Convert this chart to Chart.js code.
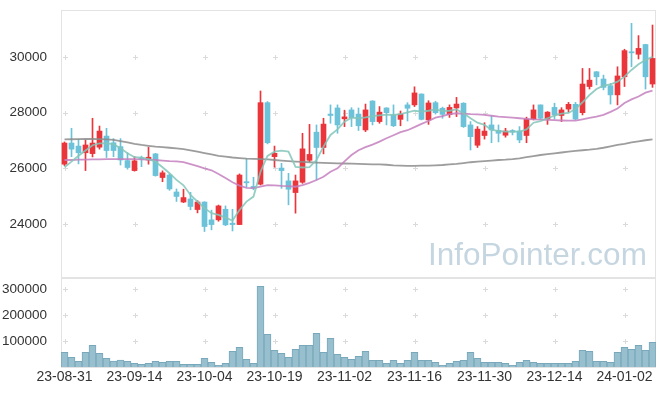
<!DOCTYPE html>
<html><head><meta charset="utf-8">
<script src="https://cdn.jsdelivr.net/npm/chart.js@4.4.1/dist/chart.umd.min.js"></script>
<style>
html,body{margin:0;padding:0;background:#fff;}
#wrap{position:relative;width:665px;height:396px;overflow:hidden;}
#p1{position:absolute;left:0;top:0;width:665px;height:280px;}
#p2{position:absolute;left:0;top:270px;width:665px;height:126px;}
#wm{position:absolute;left:428px;top:236px;font:31.5px "Liberation Sans",Arial,sans-serif;color:#c6d6e1;white-space:nowrap;pointer-events:none;}
</style></head><body>
<div id="wrap">
<div id="p1"><canvas id="c1"></canvas></div>
<div id="p2"><canvas id="c2"></canvas></div>
<div id="wm">InfoPointer.com</div>
</div>
<script>
const dates = ["23-08-31","23-09-01","23-09-04","23-09-05","23-09-06","23-09-07","23-09-08","23-09-11","23-09-12","23-09-13",
"23-09-14","23-09-15","23-09-18","23-09-19","23-09-20","23-09-21","23-09-22","23-09-25","23-09-26","23-09-27",
"23-10-04","23-10-05","23-10-06","23-10-10","23-10-11","23-10-12","23-10-13","23-10-16","23-10-17","23-10-18",
"23-10-19","23-10-20","23-10-23","23-10-24","23-10-25","23-10-26","23-10-27","23-10-30","23-10-31","23-11-01",
"23-11-02","23-11-03","23-11-06","23-11-07","23-11-08","23-11-09","23-11-10","23-11-13","23-11-14","23-11-15",
"23-11-16","23-11-17","23-11-20","23-11-21","23-11-22","23-11-23","23-11-24","23-11-27","23-11-28","23-11-29",
"23-11-30","23-12-01","23-12-04","23-12-05","23-12-06","23-12-07","23-12-08","23-12-11","23-12-12","23-12-13",
"23-12-14","23-12-15","23-12-18","23-12-19","23-12-20","23-12-21","23-12-22","23-12-26","23-12-27","23-12-28",
"24-01-02","24-01-03","24-01-04","24-01-05","24-01-08"];

const opens = [26150,26910,26800,26560,26530,26760,27160,26920,26780,26280,
25920,26380,26300,26520,25670,25760,25150,24790,24900,24520,
24790,24150,24150,24530,24030,23980,25520,25350,25430,28360,
26420,26010,25550,25130,25500,26290,27300,26750,27950,28170,
27780,28100,27950,27380,28420,27680,28170,27920,27760,28280,
28280,28670,27740,28360,28160,27930,28170,28340,27560,26830,
27180,27560,27360,27190,27360,27340,27180,27770,28280,27770,
28190,27900,28130,28300,28000,28940,29470,29210,28970,28640,
29290,30190,30100,30450,29030];
const highs = [26950,27440,27050,27020,27800,27520,27440,27070,27070,26560,
26420,26440,26760,26540,25910,25800,25260,25250,25140,24840,
24800,24500,24680,24650,24530,25800,26340,25680,28780,28400,
26800,26180,25820,25760,27260,27580,27560,27800,28280,28280,
28090,28180,28170,28310,28430,28220,28180,28280,28060,28360,
28930,28680,28430,28410,28200,28280,28550,28360,27680,27500,
27640,27890,27560,27440,27390,27500,27840,28280,28280,28040,
28340,28180,28370,28370,29590,29590,29480,29350,29050,29650,
30280,31210,30770,30460,31150];
const lows = [26100,26420,26160,25920,26410,26690,26390,26420,26120,25970,
25900,26060,26150,25720,25520,25210,24810,24770,24510,24400,
23730,23790,24100,23940,23750,23980,25320,25230,25400,26880,
26040,25280,24690,24390,25460,26240,25580,26520,27620,27260,
27500,27500,27360,27320,27560,27620,27560,27500,27530,27700,
28220,27740,27580,27950,27800,27830,27860,27470,26660,26750,
27050,26920,26950,27120,27200,26920,26920,27740,27770,27580,
27770,27680,28020,27750,27920,28850,29000,28820,28310,28280,
28940,29650,29930,28850,28910];
const closes = [26910,26690,26560,26840,26910,27340,26640,26640,26300,26030,
26270,26330,26400,25740,25840,25260,24990,24950,24630,24790,
23910,23980,24650,23970,23980,25760,25480,25290,28360,26920,
26540,25920,25250,25550,26700,26500,26750,27590,27900,27560,
27850,27820,27530,28100,27680,28020,28000,27530,27950,28160,
28710,27760,28350,28000,27940,28190,28310,27500,27140,27410,
27340,27380,27260,27340,27300,27020,27770,28100,27800,28020,
27920,28100,28300,27770,29030,29170,29290,28910,28640,29320,
30230,30150,30310,29290,29950];
const ma5 = [26040,26240,26450,26640,26830,26900,26900,26870,26720,26545,
26400,26385,26330,26240,26040,25825,25585,25390,25045,24805,
24570,24390,24330,24230,24125,24505,24805,24985,25880,26445,
26600,26635,26600,26050,26030,26040,26300,26780,27200,27400,
27680,27820,27800,27835,27880,27905,27930,27920,27945,28015,
28070,28040,28070,28120,28060,28070,28120,27980,27800,27640,
27560,27380,27345,27320,27320,27320,27400,27640,27700,27800,
27895,27965,27990,28135,28375,28635,28850,28970,29020,29115,
29295,29535,29740,29890,30010];
const ma20 = [26300,26300,26310,26310,26320,26320,26330,26330,26330,26330,
26330,26320,26310,26300,26280,26260,26250,26220,26150,26080,
26000,25930,25800,25650,25500,25380,25300,25290,25340,25400,
25390,25370,25360,25340,25400,25480,25580,25700,25880,26000,
26250,26480,26650,26760,26850,26960,27080,27190,27300,27370,
27480,27600,27700,27820,27880,27950,27980,27970,27950,27940,
27920,27890,27860,27840,27820,27800,27780,27760,27750,27740,
27730,27720,27715,27715,27760,27810,27860,27920,28030,28150,
28350,28480,28580,28720,28790];
const ma60 = [27040,27045,27050,27055,27055,27050,27040,27020,26980,26930,
26880,26840,26810,26780,26760,26740,26720,26690,26650,26600,
26550,26500,26450,26420,26390,26370,26350,26340,26330,26320,
26300,26280,26260,26245,26230,26220,26205,26195,26185,26180,
26175,26170,26160,26150,26145,26140,26130,26110,26100,26090,
26090,26095,26100,26110,26120,26140,26160,26190,26220,26240,
26260,26280,26300,26310,26330,26360,26400,26440,26480,26510,
26540,26570,26600,26630,26650,26670,26700,26740,26790,26840,
26880,26930,26970,27010,27045];
const volumes = [56400,37200,21800,56400,83300,52600,33300,23100,26900,21800,
14100,10300,14100,21800,17900,21800,21800,10300,10300,10300,
33300,17900,6400,14100,60300,75600,29500,14100,310000,125600,
64100,52600,37200,67900,83300,83300,129500,56400,110300,48700,
37200,29500,41000,60300,25600,25600,14100,25600,14100,25600,
56400,25600,25600,17900,6400,14100,21800,25600,56400,33300,
17900,17900,17900,14100,6400,17900,25600,17900,14100,14100,
14100,14100,14100,21800,64100,60300,21800,21800,17900,56400,
75600,67900,83300,64100,94900];
const priceTicks = [24000,26000,28000,30000];
const volumeTicks = [100000,200000,300000];

const UP = '#ea353b', DOWN = '#6cc2d8';
const candleColors = opens.map((o,i)=> closes[i] >= o ? UP : DOWN);

const FONT = '"Liberation Sans", Arial, sans-serif';

const gridPlugin = {
  id: 'crossGrid',
  beforeDatasetsDraw(chart, args, opts) {
    const {ctx, chartArea: a, scales} = chart;
    const x = scales.x, y = scales.y;
    ctx.save();
    ctx.strokeStyle = '#e3e3e3';
    ctx.lineWidth = 1;
    ctx.strokeRect(Math.round(a.left) + 0.5, Math.round(a.top) + 0.5, Math.round(a.right - a.left) - 1, Math.round(a.bottom - a.top));
    ctx.strokeStyle = '#dadada';
    for (let i = 0; i < dates.length; i += 10) {
      const px = Math.round(x.getPixelForValue(i)) + 0.5;
      opts.ticks.forEach(v => {
        const py = Math.round(y.getPixelForValue(v)) + 0.5;
        ctx.beginPath();
        ctx.moveTo(px - 2.5, py); ctx.lineTo(px + 2.5, py);
        ctx.moveTo(px, py - 2.5); ctx.lineTo(px, py + 2.5);
        ctx.stroke();
      });
    }
    ctx.restore();
  }
};

const yAxisCommon = (ticksArr) => ({
  grid: {display: false},
  border: {display: false},
  afterFit(scale) { scale.width = 61; scale.paddingTop = 0; scale.paddingBottom = 0; },
  afterBuildTicks(scale) { scale.ticks = ticksArr.map(v => ({value: v})); },
  ticks: {
    color: '#333', padding: 6,
    font: {family: FONT, size: 13.5},
    callback: v => String(v)
  }
});

new Chart(document.getElementById('c1'), {
  data: {
    labels: dates,
    datasets: [
      {type: 'line', data: ma5, borderColor: 'rgba(130,198,185,0.85)', borderWidth: 1.8, pointRadius: 0, tension: 0, order: 0},
      {type: 'line', data: ma20, borderColor: 'rgba(196,128,192,0.85)', borderWidth: 1.8, pointRadius: 0, tension: 0, order: 0},
      {type: 'line', data: ma60, borderColor: 'rgba(140,140,140,0.85)', borderWidth: 1.8, pointRadius: 0, tension: 0, order: 0},
      {type: 'bar', data: opens.map((o,i)=>[o, closes[i]]), backgroundColor: candleColors, barThickness: 5, grouped: false, minBarLength: 1, order: 1},
      {type: 'bar', data: lows.map((l,i)=>[l, highs[i]]), backgroundColor: candleColors, barThickness: 1, grouped: false, order: 2}
    ]
  },
  options: {
    responsive: true, maintainAspectRatio: false, animation: false,
    layout: {padding: {top: 10, right: 9, left: 0, bottom: 2}},
    plugins: {legend: {display: false}, tooltip: {enabled: false}, crossGrid: {ticks: priceTicks}},
    scales: {
      x: {display: false, offset: true},
      y: Object.assign({min: 22060, max: 31690}, yAxisCommon(priceTicks))
    }
  },
  plugins: [gridPlugin]
});

new Chart(document.getElementById('c2'), {
  type: 'bar',
  data: {
    labels: dates,
    datasets: [{
      data: volumes, backgroundColor: '#97bfce', borderColor: '#79a8bb', borderWidth: 1,
      barPercentage: 1, categoryPercentage: 1
    }]
  },
  options: {
    responsive: true, maintainAspectRatio: false, animation: false,
    layout: {padding: {top: 7, right: 9, left: 0, bottom: 0}},
    plugins: {legend: {display: false}, tooltip: {enabled: false}, crossGrid: {ticks: volumeTicks}},
    scales: {
      x: {
        offset: true,
        grid: {display: false, drawTicks: false},
        border: {display: false},
        afterFit(scale) { scale.height = 29; scale.paddingLeft = 0; scale.paddingRight = 0; },
        ticks: {
          autoSkip: false, maxRotation: 0, minRotation: 0, padding: 2,
          color: '#333', font: {family: FONT, size: 14},
          callback: (v, i) => (i % 10 === 0 ? dates[i] : '')
        }
      },
      y: Object.assign({min: 0, max: 346000}, yAxisCommon(volumeTicks))
    }
  },
  plugins: [gridPlugin]
});
</script>
</body></html>
